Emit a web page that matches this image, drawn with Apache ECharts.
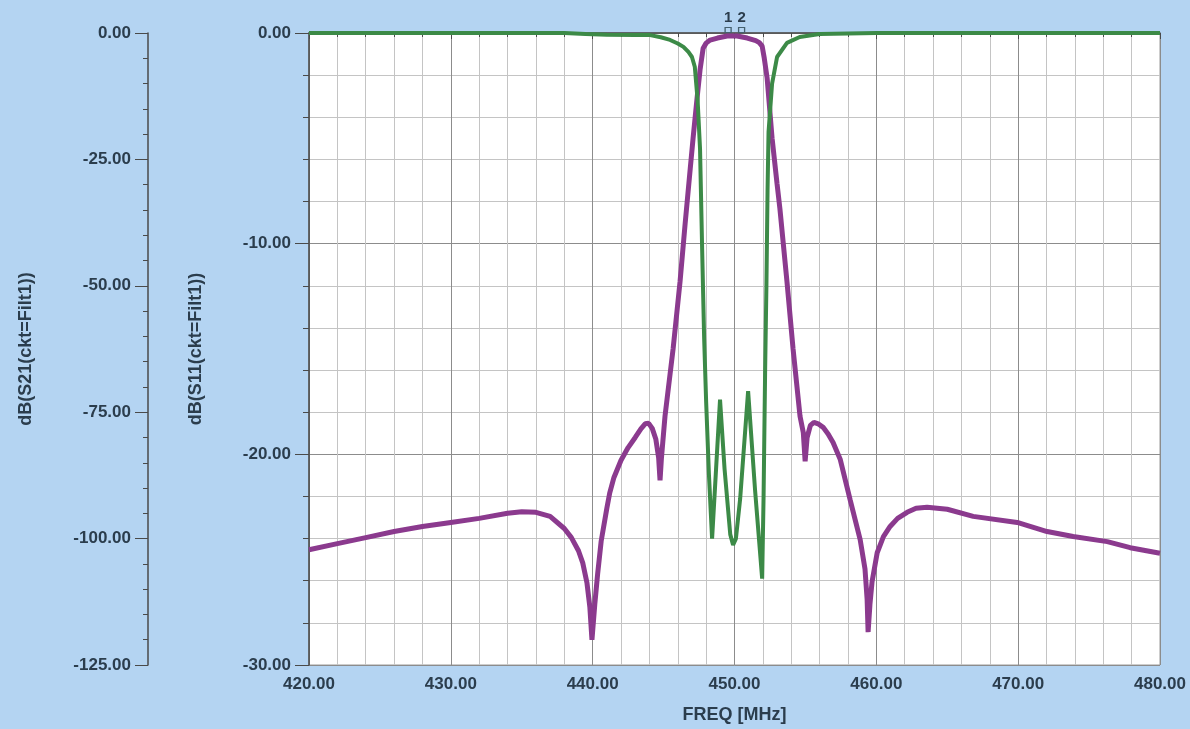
<!DOCTYPE html>
<html>
<head>
<meta charset="utf-8">
<script src="https://cdn.jsdelivr.net/npm/echarts@6/dist/echarts.min.js"></script>
<style>
html,body{margin:0;padding:0;background:#b4d4f2;}
#c{width:1190px;height:729px;}
</style>
</head>
<body>
<div id="c"></div>
<script>
// S21 (purple), left outer axis, dB
const freqS21 = [420, 422, 424, 426, 428, 430, 432, 434, 435, 436, 437, 438, 438.5, 439, 439.3, 439.6, 439.8, 439.95, 440.15, 440.35, 440.6, 441, 441.2, 441.5, 442, 442.5, 443, 443.4, 443.7, 443.95, 444.2, 444.45, 444.65, 444.75, 444.85, 445.1, 445.67, 446.16, 446.52, 446.88, 447.08, 447.36, 447.57, 447.79, 448.0, 448.28, 448.8, 449.48, 450.18, 450.9, 451.5, 451.75, 451.95, 452.1, 452.3, 452.65, 453.0, 453.2, 453.7, 454.13, 454.62, 454.85, 454.98, 455.12, 455.35, 455.6, 455.9, 456.25, 456.6, 456.95, 457.45, 458.15, 458.86, 459.2, 459.35, 459.42, 459.55, 459.7, 460.06, 460.5, 460.97, 461.5, 462.17, 462.8, 463.58, 465.0, 466.83, 469.93, 472.04, 473.88, 476.28, 477.9, 480];
const s21dB = [-102.2, -101.0, -99.8, -98.6, -97.6, -96.8, -96.0, -95.0, -94.7, -94.8, -95.6, -98.0, -99.8, -102.4, -104.8, -108.8, -113.5, -120.0, -113.0, -107.0, -100.5, -94.0, -91.0, -87.9, -84.5, -82.0, -80.0, -78.3, -77.3, -77.2, -78.2, -80.3, -84.0, -88.5, -84.0, -75.8, -62.5, -49.2, -37.7, -26.8, -20.8, -12.9, -7.3, -3.0, -2.0, -1.4, -1.0, -0.6, -0.6, -1.0, -1.5, -1.9, -2.6, -5.0, -8.9, -20.8, -29.8, -34.7, -49.2, -62.5, -75.8, -79.0, -84.7, -80.0, -77.6, -77.0, -77.3, -78.0, -79.3, -81.0, -84.3, -92.3, -100.2, -106.0, -112.0, -118.5, -113.0, -108.5, -102.8, -99.6, -97.6, -96.0, -94.8, -94.0, -93.8, -94.2, -95.6, -96.8, -98.6, -99.6, -100.6, -101.8, -102.9];

// S11 (green), inner axis, dB
const freqS11 = [420, 430, 438, 439.5, 441, 443, 444.05, 444.8, 445.46, 446.0, 446.4, 446.75, 447.0, 447.2, 447.4, 447.57, 447.72, 447.86, 448.0, 448.2, 448.42, 448.7, 448.98, 449.3, 449.7, 449.9, 450.1, 450.4, 450.96, 451.45, 451.95, 452.05, 452.16, 452.25, 452.33, 452.4, 452.65, 453.0, 453.7, 454.6, 456.0, 460, 470, 480];
const s11dB = [0, 0, 0, -0.05, -0.08, -0.1, -0.1, -0.2, -0.33, -0.5, -0.66, -0.9, -1.14, -1.6, -3.2, -5.5, -10.3, -14.5, -17.5, -21.0, -24.0, -20.7, -17.4, -20.7, -23.8, -24.3, -24.0, -22.1, -17.0, -21.7, -25.9, -22.0, -16.0, -12.0, -7.5, -4.7, -2.4, -1.14, -0.47, -0.19, -0.05, 0, 0, 0];

// markers
const markerFreqs = [449.55, 450.5];
const markerNames = ['1', '2'];

const xTicks = {min: 420, max: 480, step: 10};
const s11Ticks = {min: -30, max: 0, step: 10};
const s21Ticks = {min: -125, max: 0, step: 25};

const FONT = 'Liberation Sans, Arial, sans-serif';
const TXT = '#2b3d4d';
const AX = '#4a4a4a';

const chart = echarts.init(document.getElementById('c'));
const fmt2 = v => v.toFixed(2);

chart.setOption({
  backgroundColor: '#b4d4f2',
  animation: false,
  grid: {left: 309, right: 30, top: 33, bottom: 62, show: true, backgroundColor: '#ffffff', borderColor: '#9a9a9a', borderWidth: 1},
  xAxis: {
    type: 'value', min: xTicks.min, max: xTicks.max, interval: xTicks.step,
    axisLine: {show: true, lineStyle: {color: AX, width: 1.5}},
    axisTick: {show: true, length: 6, lineStyle: {color: AX}},
    minorTick: {show: true, splitNumber: 5, length: 4, lineStyle: {color: AX}},
    splitLine: {show: true, lineStyle: {color: '#8c8c8c', width: 1}},
    minorSplitLine: {show: true, lineStyle: {color: '#c4c4c4', width: 1}},
    axisLabel: {formatter: fmt2, fontSize: 17, fontWeight: 'bold', color: TXT, fontFamily: FONT, margin: 11},
    name: 'FREQ [MHz]', nameLocation: 'middle', nameGap: 41,
    nameTextStyle: {fontSize: 18, fontWeight: 'bold', color: TXT, fontFamily: FONT}
  },
  yAxis: [
    {
      type: 'value', min: s11Ticks.min, max: s11Ticks.max, interval: s11Ticks.step, position: 'left', offset: 0,
      axisLine: {show: true, onZero: false, lineStyle: {color: AX, width: 1.5}},
      axisTick: {show: true, length: 14, lineStyle: {color: AX}},
      minorTick: {show: true, splitNumber: 5, length: 6, lineStyle: {color: AX}},
      splitLine: {show: true, lineStyle: {color: '#8c8c8c', width: 1}},
      minorSplitLine: {show: true, lineStyle: {color: '#c4c4c4', width: 1}},
      axisLabel: {formatter: fmt2, fontSize: 17, fontWeight: 'bold', color: TXT, fontFamily: FONT, margin: 18},
      name: 'dB(S11(ckt=Filt1))', nameLocation: 'middle', nameGap: 104,
      nameTextStyle: {fontSize: 18, fontWeight: 'bold', color: TXT, fontFamily: FONT}
    },
    {
      type: 'value', min: s21Ticks.min, max: s21Ticks.max, interval: s21Ticks.step, position: 'left', offset: 161,
      axisLine: {show: true, onZero: false, lineStyle: {color: AX, width: 1.5}},
      axisTick: {show: true, length: 13, lineStyle: {color: AX}},
      minorTick: {show: true, splitNumber: 5, length: 5, lineStyle: {color: AX}},
      splitLine: {show: false},
      minorSplitLine: {show: false},
      axisLabel: {formatter: fmt2, fontSize: 17, fontWeight: 'bold', color: TXT, fontFamily: FONT, margin: 17},
      name: 'dB(S21(ckt=Filt1))', nameLocation: 'middle', nameGap: 113,
      nameTextStyle: {fontSize: 18, fontWeight: 'bold', color: TXT, fontFamily: FONT}
    }
  ],
  series: [
    {
      name: 'S21', type: 'line', yAxisIndex: 1, showSymbol: false, clip: false,
      data: freqS21.map((f, i) => [f, s21dB[i]]),
      lineStyle: {color: '#8b3a8e', width: 5},
      itemStyle: {color: '#8b3a8e'},
      markPoint: {
        symbol: 'rect', symbolSize: [6, 5], symbolOffset: [0, -3],
        itemStyle: {color: 'rgba(0,0,0,0)', borderColor: '#45606e', borderWidth: 1.2},
        label: {show: true, position: 'top', distance: 2, fontSize: 15, fontWeight: 'bold', color: TXT, fontFamily: FONT, formatter: p => p.name},
        data: markerFreqs.map((f, i) => ({name: markerNames[i], coord: [f, 0]}))
      }
    },
    {
      name: 'S11', type: 'line', yAxisIndex: 0, showSymbol: false, clip: false,
      data: freqS11.map((f, i) => [f, s11dB[i]]),
      lineStyle: {color: '#3c8a47', width: 4},
      itemStyle: {color: '#3c8a47'}
    }
  ]
});
</script>
</body>
</html>
